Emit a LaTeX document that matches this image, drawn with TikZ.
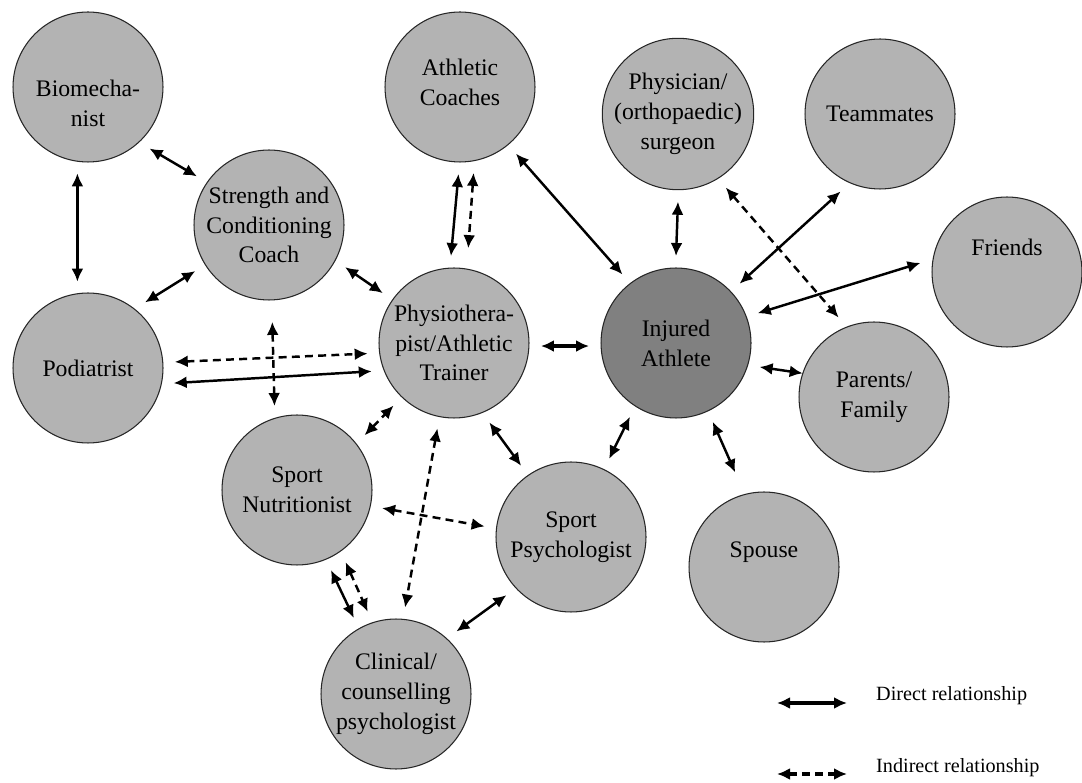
\documentclass[tikz,border=0pt]{standalone}
\usepackage{fontspec}
\setmainfont{Liberation Serif}
\usetikzlibrary{arrows.meta}
\definecolor{fillgray}{RGB}{179,179,179}
\definecolor{athgray}{RGB}{128,128,128}

\begin{document}
\begin{tikzpicture}[
    x=0.02cm, y=-0.02cm,
    font=\fontsize{13.5}{17}\selectfont,
    person/.style={circle, draw=black!85, line width=0.6pt, fill=fillgray, minimum size=3cm, inner sep=0pt, outer sep=0.24cm, align=center},
    rel/.style={{Latex[length=2.6mm,width=2.4mm]}-{Latex[length=2.6mm,width=2.4mm]}, line width=1.4pt},
    indrel/.style={rel, dash pattern=on 4.5pt off 3pt},
    legtext/.style={anchor=west, font=\fontsize{11.5}{14}\selectfont}
]
\useasboundingbox (0,0) rectangle (1082,783);

% people round the athlete
\node[person, label={[align=center, yshift=-0.32cm]center:Biomecha-\\nist}] (bio) at (88,87) {};
\node[person, label={[align=center, yshift=0.1cm]center:Athletic\\Coaches}] (coach) at (460,87) {};
\node[person] (phys) at (678,114) {Physician/\\(orthopaedic)\\surgeon};
\node[person] (team) at (880,114) {Teammates};
\node[person, label={[yshift=0.5cm]center:Friends}] (friend) at (1007,272) {};
\node[person] (str) at (269,225) {Strength and\\Conditioning\\Coach};
\node[person] (physio) at (454,343) {Physiothera-\\pist/Athletic\\Trainer};
\node[person, fill=athgray] (inj) at (676,343) {Injured\\Athlete};
\node[person] (parent) at (874,397) {Parents/\\Family};
\node[person] (pod) at (88,368) {Podiatrist};
\node[person] (nutri) at (297,490) {Sport\\Nutritionist};
\node[person] (spsy) at (571,537) {Sport\\Psychologist};
\node[person, label={[yshift=0.3cm]center:Spouse}] (spouse) at (764,567) {};
\node[person] (clin) at (396,694) {Clinical/\\counselling\\psychologist};

% relationships
\draw[rel, line width=1.9pt] (bio.-97) -- (pod.97);
\draw[rel] (bio.-45) -- (str.146);
\draw[rel] (coach.-91) -- (physio.92);
\draw[indrel, shorten >=0.18cm] (coach.-81) -- (physio.81);
\draw[rel] (coach.-50) -- (inj.128);
\draw[rel] (phys.-90) -- (inj.90);
\draw[indrel] (phys.-57) -- (parent.114);
\draw[rel] (team.-117) -- (inj.43);
\draw[rel] (friend.174) -- (inj.20);
\draw[rel, shorten <=-0.24cm] (parent.163) -- (inj.-16);
\draw[rel] (str.-148) -- (pod.49);
\draw[rel] (str.-29) -- (physio.145);
\draw[indrel] (pod.4) -- (physio.187);
\draw[rel] (pod.-10) -- (physio.199);
\draw[indrel, shorten <=0.2cm] (str.-88) -- (nutri.105);
\draw[indrel] (nutri.39) -- (physio.-134);
\draw[rel, line width=1.9pt] (physio.-2) -- (inj.182);
\draw[rel] (physio.-66) -- (spsy.125);
\draw[rel] (inj.-122) -- (spsy.64);
\draw[rel, shorten >=0.24cm] (inj.-65) -- (spouse.106);
\draw[indrel] (physio.-101) -- (clin.84);
\draw[indrel] (nutri.-12) -- (spsy.173);
\draw[rel] (nutri.-67) -- (clin.119);
\draw[indrel] (nutri.-56) -- (clin.109);
\draw[rel] (spsy.-138) -- (clin.46);

% legend
\coordinate (dirA) at (777,703);
\coordinate (dirB) at (847,703);
\coordinate (indA) at (777,774);
\coordinate (indB) at (847,774);
\draw[rel, line width=2.4pt] (dirA) -- (dirB);
\draw[indrel, line width=2pt] (indA) -- (indB);
\node[legtext] (dirtext) at (870,696) {Direct relationship};
\node[legtext] (indtext) at (870,768) {Indirect relationship};
\end{tikzpicture}
\end{document}
